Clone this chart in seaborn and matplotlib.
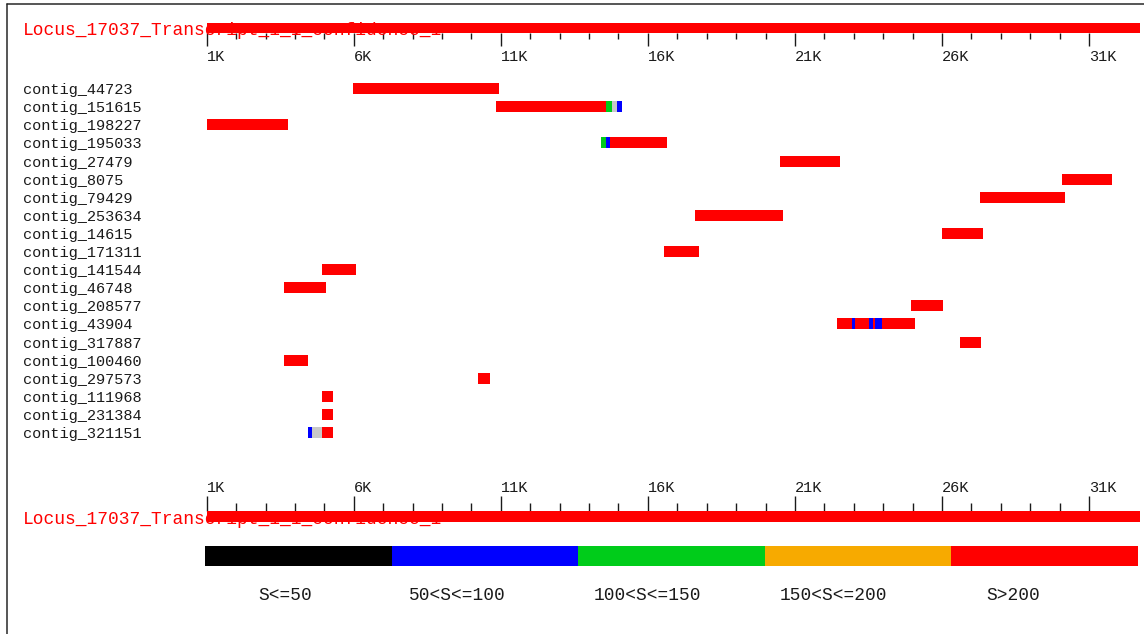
import numpy as np
import pandas as pd
import matplotlib
matplotlib.use("Agg")
import matplotlib.pyplot as plt
from matplotlib.colors import ListedColormap
from matplotlib.lines import Line2D
from matplotlib.ticker import FixedLocator, NullFormatter
import seaborn as sns

# ---- transcript ruler -------------------------------------------------------
TRANSCRIPT = "Locus_17037_Transcript_1_1_confidence_1"
TRACK_START = 1000
TRACK_END = 32730
MAJOR_TICKS = [1000, 6000, 11000, 16000, 21000, 26000, 31000]
MAJOR_LABELS = ["1K", "6K", "11K", "16K", "21K", "26K", "31K"]
MINOR_STEP = 1000

# ---- contigs aligned to the transcript (top to bottom) ----------------------
CONTIGS = [
    "contig_44723", "contig_151615", "contig_198227", "contig_195033",
    "contig_27479", "contig_8075", "contig_79429", "contig_253634",
    "contig_14615", "contig_171311", "contig_141544", "contig_46748",
    "contig_208577", "contig_43904", "contig_317887", "contig_100460",
    "contig_297573", "contig_111968", "contig_231384", "contig_321151",
]

# one entry per aligned block: contig, start, end, score class
SEG_CONTIG = [
    "contig_44723",
    "contig_151615", "contig_151615", "contig_151615", "contig_151615",
    "contig_198227",
    "contig_195033", "contig_195033", "contig_195033",
    "contig_27479", "contig_8075", "contig_79429", "contig_253634",
    "contig_14615", "contig_171311", "contig_141544", "contig_46748",
    "contig_208577",
    "contig_43904", "contig_43904", "contig_43904", "contig_43904",
    "contig_43904", "contig_43904", "contig_43904",
    "contig_317887", "contig_100460", "contig_297573", "contig_111968",
    "contig_231384",
    "contig_321151", "contig_321151", "contig_321151",
]
SEG_START = [
    5984,
    10826, 14576, 14763, 14940,
    1000,
    14389, 14566, 14702,
    20502, 30077, 27302, 17609,
    25997, 16548, 4930, 3638,
    24956,
    22440, 22930, 23049, 23528, 23654, 23729, 23967,
    26612, 3638, 10214, 4930,
    4930,
    4434, 4570, 4930,
]
SEG_END = [
    10948,
    14576, 14763, 14940, 15120,
    3754,
    14566, 14702, 16664,
    22525, 31780, 30172, 20608,
    27394, 17725, 6086, 5046,
    26044,
    22930, 23049, 23528, 23654, 23729, 23967, 25075,
    27336, 4434, 10632, 5294,
    5294,
    4570, 4930, 5294,
]
SEG_CLASS = [
    "S>200",
    "S>200", "100<S<=150", "gap", "50<S<=100",
    "S>200",
    "100<S<=150", "50<S<=100", "S>200",
    "S>200", "S>200", "S>200", "S>200",
    "S>200", "S>200", "S>200", "S>200",
    "S>200",
    "S>200", "50<S<=100", "S>200", "50<S<=100", "S>200", "50<S<=100", "S>200",
    "S>200", "S>200", "S>200", "S>200",
    "S>200",
    "50<S<=100", "gap", "S>200",
]

# ---- score legend -----------------------------------------------------------
SCORE_BINS = ["S<=50", "50<S<=100", "100<S<=150", "150<S<=200", "S>200"]
BIN_COLORS = ["#000000", "#0000FF", "#00CC1A", "#F7AA00", "#FF0000"]
GAP_COLOR = "#C8C8C8"
LEGEND_LABEL_X = [0.43, 1.35, 2.37, 3.37, 4.33]

RED = "#FF0000"
INK = "#1A1A1A"

W, H, DPI = 1144, 634, 100
PT = 72.0 / DPI  # points per pixel

sns.set_theme(style="white")
plt.rcParams["font.family"] = ["Liberation Mono", "DejaVu Sans Mono"]
plt.rcParams["font.size"] = 12.9

segments = pd.DataFrame({
    "contig": SEG_CONTIG, "start": SEG_START, "end": SEG_END, "score": SEG_CLASS,
})
segments["row"] = segments["contig"].map({c: i for i, c in enumerate(CONTIGS)})
color_of = dict(zip(SCORE_BINS, BIN_COLORS))
color_of["gap"] = GAP_COLOR
segments["color"] = segments["score"].map(color_of)

fig = plt.figure(figsize=(W / DPI, H / DPI), dpi=DPI)
fig.patch.set_facecolor("white")


def px_rect(x0, y0, x1, y1):
    return [x0 / W, 1 - y1 / H, (x1 - x0) / W, (y1 - y0) / H]


TRACK_X0, TRACK_X1 = 206.7, 1140
minor_ticks = np.arange(MAJOR_TICKS[0], MAJOR_TICKS[-1] + 1, MINOR_STEP)


def ruler(rect, side, major_len, minor_len, text_baseline_px, label_pad):
    ax = fig.add_axes(px_rect(*rect))
    ax.set_xlim(TRACK_START, TRACK_END)
    ax.set_ylim(0, 1)
    ax.barh(0.5, TRACK_END - TRACK_START, left=TRACK_START, height=1.0,
            color=RED, linewidth=0, zorder=3)
    ax.text(23 / W, 1 - text_baseline_px / H, TRANSCRIPT, color=RED,
            transform=fig.transFigure, ha="left", va="baseline",
            zorder=1, clip_on=False)
    for s in ax.spines.values():
        s.set_visible(False)
    ax.set_yticks([])
    ax.xaxis.set_major_locator(FixedLocator(MAJOR_TICKS))
    ax.xaxis.set_minor_locator(FixedLocator(minor_ticks))
    ax.set_xticklabels(MAJOR_LABELS)
    ax.xaxis.set_minor_formatter(NullFormatter())
    ax.xaxis.set_ticks_position(side)
    ax.xaxis.set_label_position(side)
    ax.tick_params(axis="x", which="major", direction="out", length=major_len * PT,
                   width=1.0, color=INK, labelcolor=INK, pad=label_pad,
                   bottom=(side == "bottom"), top=(side == "top"),
                   labelbottom=(side == "bottom"), labeltop=(side == "top"))
    ax.tick_params(axis="x", which="minor", direction="out", length=minor_len * PT,
                   width=1.0, color=INK,
                   bottom=(side == "bottom"), top=(side == "top"))
    for lab in ax.get_xticklabels():
        lab.set_horizontalalignment("left")
    ax.patch.set_alpha(0)
    return ax


ruler((TRACK_X0, 22.7, TRACK_X1, 33.3), "bottom", 13.4, 5.5, 35.0, 2.2)
ruler((TRACK_X0, 510.7, TRACK_X1, 522.0), "top", 14.7, 8.0, 523.5, 0.8)

# ---- contig alignment rows --------------------------------------------------
ROW_PX = 18.1
ROW0_PX = 88.7
n = len(CONTIGS)
ax = fig.add_axes(px_rect(TRACK_X0, ROW0_PX - ROW_PX / 2, TRACK_X1,
                          ROW0_PX - ROW_PX / 2 + n * ROW_PX))
ax.set_xlim(TRACK_START, TRACK_END)
ax.set_ylim(n - 0.5, -0.5)
ax.barh(segments["row"], segments["end"] - segments["start"],
        left=segments["start"], height=11.0 / ROW_PX,
        color=segments["color"], linewidth=0)
for s in ax.spines.values():
    s.set_visible(False)
ax.set_xticks([])
ax.set_yticks(range(n))
ax.set_yticklabels(CONTIGS)
ax.tick_params(axis="y", length=0, pad=(TRACK_X0 - 23) * PT, labelcolor=INK)
for lab in ax.get_yticklabels():
    lab.set_horizontalalignment("left")
ax.patch.set_alpha(0)

# ---- score colour key -------------------------------------------------------
axl = fig.add_axes(px_rect(205, 546, 1138, 566))
sns.heatmap(np.arange(len(SCORE_BINS)).reshape(1, -1), ax=axl,
            cmap=ListedColormap(BIN_COLORS), cbar=False,
            xticklabels=False, yticklabels=False, linewidths=0)
for xpos, lab in zip(LEGEND_LABEL_X, SCORE_BINS):
    axl.text(xpos, 2.45, lab, ha="center", va="center", color=INK,
             clip_on=False)

# frame edge along the left and top
fig.add_artist(Line2D([6.7 / W, 6.7 / W], [0, 1 - 4 / H], color="#222222",
                      linewidth=1.5 * PT))
fig.add_artist(Line2D([6.7 / W, 1], [1 - 4 / H, 1 - 4 / H], color="#222222",
                      linewidth=1.5 * PT))

fig.savefig("out.png", dpi=DPI, facecolor="white")
